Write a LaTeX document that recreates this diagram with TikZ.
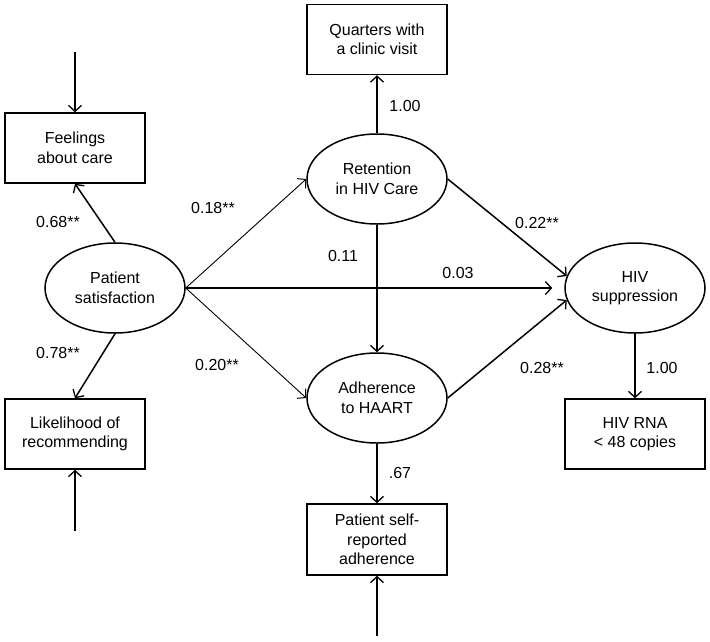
\documentclass[tikz,border=0pt]{standalone}
\usepackage{fontspec}
\setmainfont{Liberation Sans}
\usetikzlibrary{shapes.geometric,arrows.meta,calc}
\begin{document}
\begin{tikzpicture}[x=1pt,y=-1pt,
  font=\fontsize{16}{19.5}\selectfont,
  obs/.style={draw,line width=1.5pt,rectangle,minimum width=140pt,minimum height=70pt,inner sep=0pt,align=center},
  lat/.style={draw,line width=1.5pt,ellipse,minimum width=140pt,minimum height=90pt,inner sep=0pt,align=center},
  arr/.style={line width=1.5pt,-{Straight Barb[length=6pt,width=13pt,line width=1.3pt]}},
  thinarr/.style={line width=0.9pt,-{Straight Barb[length=6pt,width=13pt,line width=1pt]}},
  lbl/.style={inner sep=0pt}]
\useasboundingbox (0,0) rectangle (710,641);
% observed boxes
\node[obs] (feel) at (75,148) {Feelings\\about care};
\node[obs] (like) at (75,434) {Likelihood of\\recommending};
\node[obs] (quart) at (377,39.5) {Quarters with\\a clinic visit};
\node[obs,minimum height=71pt] (self) at (377,539.5) {Patient self-\\reported\\adherence};
\node[obs] (rna) at (635,434) {HIV RNA\\< 48 copies};
% latent ellipses
\node[lat] (sat) at (115,288) {Patient\\satisfaction};
\node[lat] (ret) at (377,179) {Retention\\in HIV Care};
\node[lat] (adh) at (377,398) {Adherence\\to HAART};
\node[lat] (hiv) at (635,288) {HIV\\suppression};
% free ends
\coordinate (e1) at (75,52);
\coordinate (e2) at (75,531);
\coordinate (e3) at (377,636);
% connectors
\draw[arr] (e1) -- (feel.north);
\draw[arr] (e2) -- (like.south);
\draw[arr] (e3) -- (self.south);
\draw[arr] (sat.north) -- (feel.south);
\draw[arr] (sat.south) -- (like.north);
\draw[arr] (ret.north) -- (quart.south);
\draw[arr] (ret.south) -- (adh.north);
\draw[arr] (adh.south) -- (self.north);
\draw[arr] (hiv.south) -- (rna.north);
\draw[thinarr] (sat.east) -- (ret.west);
\draw[thinarr] (sat.east) -- (adh.west);
\draw[arr] (sat.east) -- ($(hiv.west)+(-12,0)$);
\draw[arr] (ret.east) -- (hiv.170);
\draw[arr] (adh.east) -- (hiv.190);
% labels
\node[lbl] (l1) at (405,106) {1.00};
\node[lbl] (l2) at (213,208) {0.18**};
\node[lbl] (l3) at (58,222) {0.68**};
\node[lbl] (l4) at (343,256) {0.11};
\node[lbl] (l5) at (458,273) {0.03};
\node[lbl] (l6) at (537,223) {0.22**};
\node[lbl] (l7) at (58,353) {0.78**};
\node[lbl] (l8) at (217,365) {0.20**};
\node[lbl] (l9) at (542,368) {0.28**};
\node[lbl] (l10) at (662,368) {1.00};
\node[lbl] (l11) at (400,473) {.67};
\end{tikzpicture}
\end{document}
